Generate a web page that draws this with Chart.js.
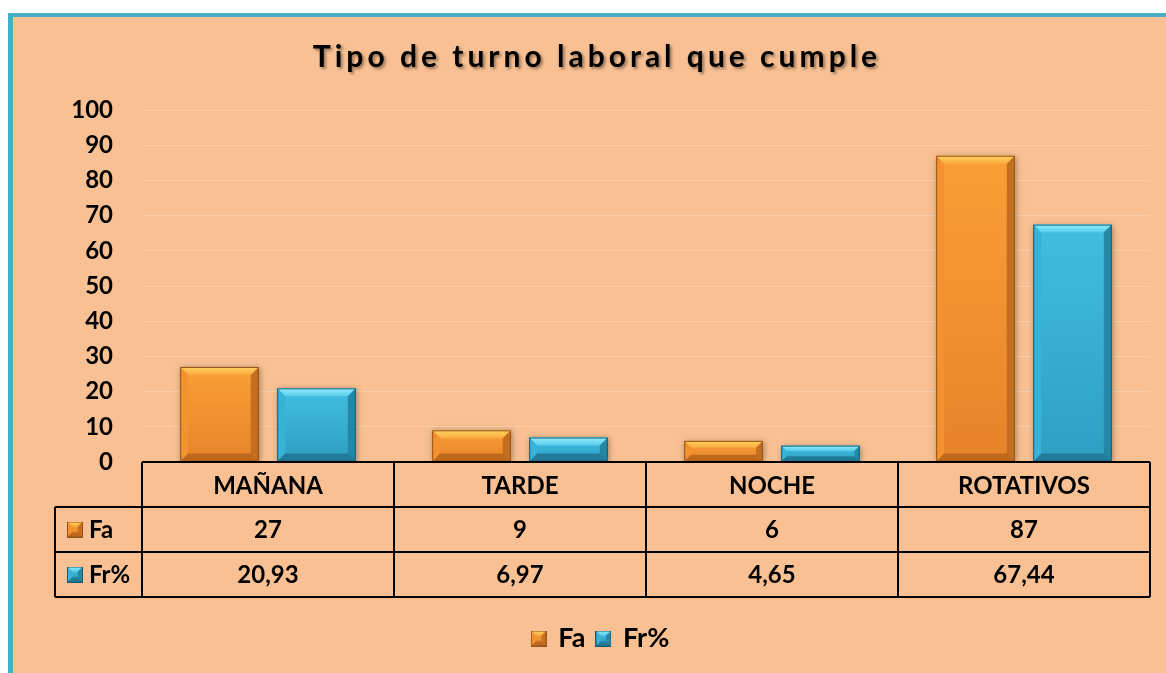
<!DOCTYPE html>
<html>
<head>
<meta charset="utf-8">
<script src="https://cdn.jsdelivr.net/npm/chart.js@4.4.1/dist/chart.umd.min.js"></script>
<style>
  html, body { margin: 0; padding: 0; background: #fff; width: 1166px; height: 673px; overflow: hidden; }
  #marco { position: absolute; left: 8px; top: 13px; right: 0; bottom: 0;
           background: #F9C193; border-left: 5px solid #4BACC6; border-top: 4px solid #4BACC6; }
  #grafico { position: absolute; left: 0; top: 0; }
</style>
</head>
<body>
<div id="marco"></div>
<canvas id="grafico" width="1166" height="673"></canvas>
<script>
var titulo = "Tipo de turno laboral que cumple";
var categorias = ["MAÑANA", "TARDE", "NOCHE", "ROTATIVOS"];
var fa = [27, 9, 6, 87];
var frPct = [20.93, 6.97, 4.65, 67.44];
var marcasY = [0, 10, 20, 30, 40, 50, 60, 70, 80, 90, 100];

var fuente = "Lato, 'Open Sans', sans-serif";
var peso = "bold";

var colores = {
    naranja: { f1: "#FA9F36", f2: "#E7832A", t1: "#FFD35F", t2: "#FBAA3E", l: "#F3922F", r: "#C46E1F", b: "#BD681C", e: "#94521A" },
    azul:    { f1: "#41BEE1", f2: "#2E9FC3", t1: "#92EEFC", t2: "#56CDEB", l: "#39B2D7", r: "#2586A6", b: "#227B99", e: "#1B5E74" }
};

function pintarBisel(ctx, l, t, r, bot, c, bv) {
    var h = bot - t;
    var b = Math.min(bv, h / 3, (r - l) / 3);
    var g = ctx.createLinearGradient(0, t, 0, bot);
    g.addColorStop(0, c.f1);
    g.addColorStop(1, c.f2);
    ctx.fillStyle = g;
    ctx.fillRect(l, t, r - l, h);
    // cara superior
    var gt = ctx.createLinearGradient(0, t, 0, t + b);
    gt.addColorStop(0, c.t1);
    gt.addColorStop(1, c.t2);
    ctx.fillStyle = gt;
    ctx.beginPath();
    ctx.moveTo(l, t); ctx.lineTo(r, t); ctx.lineTo(r - b, t + b); ctx.lineTo(l + b, t + b);
    ctx.closePath(); ctx.fill();
    // izquierda
    ctx.fillStyle = c.l;
    ctx.beginPath();
    ctx.moveTo(l, t); ctx.lineTo(l + b, t + b); ctx.lineTo(l + b, bot - b); ctx.lineTo(l, bot);
    ctx.closePath(); ctx.fill();
    // derecha
    ctx.fillStyle = c.r;
    ctx.beginPath();
    ctx.moveTo(r, t); ctx.lineTo(r - b, t + b); ctx.lineTo(r - b, bot - b); ctx.lineTo(r, bot);
    ctx.closePath(); ctx.fill();
    // abajo
    ctx.fillStyle = c.b;
    ctx.beginPath();
    ctx.moveTo(l, bot); ctx.lineTo(l + b, bot - b); ctx.lineTo(r - b, bot - b); ctx.lineTo(r, bot);
    ctx.closePath(); ctx.fill();
    ctx.strokeStyle = c.e;
    ctx.lineWidth = 1;
    ctx.strokeRect(l + 0.5, t + 0.5, r - l - 1, h - 1);
}

function icono(c) {
    var cv = document.createElement("canvas");
    cv.width = 16; cv.height = 16;
    pintarBisel(cv.getContext("2d"), 0, 0, 16, 16, c, 6);
    return cv;
}
var iconoFa = icono(colores.naranja);
var iconoFr = icono(colores.azul);

var biselPlugin = {
    id: "bisel",
    beforeDatasetDraw: function (chart) {
        var ctx = chart.ctx;
        ctx.save();
        ctx.shadowColor = "rgba(0,0,0,0.35)";
        ctx.shadowBlur = 6;
        ctx.shadowOffsetX = 1;
        ctx.shadowOffsetY = 1;
    },
    afterDatasetDraw: function (chart, args) {
        var ctx = chart.ctx;
        ctx.restore();
        var c = args.index === 0 ? colores.naranja : colores.azul;
        args.meta.data.forEach(function (el) {
            var p = el.getProps(["x", "y", "base", "width"], true);
            pintarBisel(ctx, p.x - p.width / 2, p.y, p.x + p.width / 2, p.base, c, 8);
        });
    }
};

var tituloPlugin = {
    id: "tituloEspaciado",
    afterDraw: function (chart) {
        var ctx = chart.ctx;
        ctx.save();
        ctx.font = peso + " 30px " + fuente;
        ctx.letterSpacing = "4px";
        ctx.textAlign = "center";
        ctx.textBaseline = "middle";
        ctx.shadowColor = "rgba(0,0,0,0.4)";
        ctx.shadowBlur = 3;
        ctx.shadowOffsetX = 2;
        ctx.shadowOffsetY = 2;
        ctx.fillStyle = "#000";
        ctx.fillText(titulo, 597, 57);
        ctx.restore();
    }
};

var tablaPlugin = {
    id: "tablaDatos",
    afterDraw: function (chart) {
        var ctx = chart.ctx;
        var xs = chart.scales.x;
        var area = chart.chartArea;
        var n = categorias.length;
        var cw = (xs.right - xs.left) / n;
        var alto = 45;
        var y0 = area.bottom, y1 = y0 + alto, y2 = y1 + alto, y3 = y2 + alto;
        var izq = xs.left - 87;
        ctx.save();
        ctx.strokeStyle = "#000";
        ctx.lineWidth = 2;
        ctx.beginPath();
        ctx.moveTo(xs.left, y0); ctx.lineTo(xs.right, y0);
        ctx.moveTo(izq, y1); ctx.lineTo(xs.right, y1);
        ctx.moveTo(izq, y2); ctx.lineTo(xs.right, y2);
        ctx.moveTo(izq, y3); ctx.lineTo(xs.right, y3);
        for (var i = 0; i <= n; i++) {
            var xx = xs.getPixelForValue(0) - cw / 2 + i * cw;
            ctx.moveTo(xx, y0); ctx.lineTo(xx, y3);
        }
        ctx.moveTo(izq, y1); ctx.lineTo(izq, y3);
        ctx.stroke();

        ctx.fillStyle = "#000";
        ctx.font = peso + " 24px " + fuente;
        ctx.textBaseline = "middle";
        ctx.textAlign = "center";
        for (var j = 0; j < n; j++) {
            var cx = xs.getPixelForValue(j);
            ctx.fillText(String(fa[j]).replace(".", ","), cx, y1 + alto / 2 + 1);
            ctx.fillText(String(frPct[j]).replace(".", ","), cx, y2 + alto / 2 + 1);
        }
        ctx.textAlign = "left";
        ctx.drawImage(iconoFa, izq + 12, y1 + alto / 2 - 8);
        ctx.fillText("Fa", izq + 34, y1 + alto / 2 + 1);
        ctx.drawImage(iconoFr, izq + 12, y2 + alto / 2 - 8);
        ctx.fillText("Fr%", izq + 34, y2 + alto / 2 + 1);
        ctx.restore();
    }
};

var ctx = document.getElementById("grafico").getContext("2d");
var grafico = new Chart(ctx, {
    type: "bar",
    data: {
        labels: categorias,
        datasets: [{
            label: "Fa",
            data: fa,
            backgroundColor: "#F7952E",
            pointStyle: iconoFa
        }, {
            label: "Fr%",
            data: frPct,
            backgroundColor: "#38B2D6",
            pointStyle: iconoFr
        }]
    },
    options: {
        responsive: false,
        animation: false,
        devicePixelRatio: 1,
        categoryPercentage: 0.77,
        barPercentage: 0.81,
        layout: { padding: { top: 110, left: 52, right: 16, bottom: 11 } },
        plugins: {
            title: { display: false },
            tooltip: { enabled: false },
            legend: {
                position: "bottom",
                labels: {
                    usePointStyle: true,
                    boxWidth: 12,
                    boxHeight: 16,
                    padding: 12,
                    color: "#000",
                    font: { family: fuente, size: 27, weight: peso }
                }
            }
        },
        scales: {
            x: {
                grid: { display: false, drawTicks: false },
                border: { display: false },
                ticks: {
                    color: "#000",
                    padding: 10,
                    font: { family: fuente, size: 24, weight: peso }
                },
                afterFit: function (s) { s.height = 151; }
            },
            y: {
                min: 0,
                max: 100,
                grid: { color: "rgba(255,255,255,0.22)", drawTicks: false },
                border: { display: false },
                afterBuildTicks: function (s) { s.ticks = marcasY.map(function (v) { return { value: v }; }); },
                ticks: {
                    color: "#000",
                    padding: 29,
                    font: { family: fuente, size: 24, weight: peso }
                },
                afterFit: function (s) { s.width = 90; }
            }
        }
    },
    plugins: [biselPlugin, tablaPlugin, tituloPlugin]
});
</script>
</body>
</html>
